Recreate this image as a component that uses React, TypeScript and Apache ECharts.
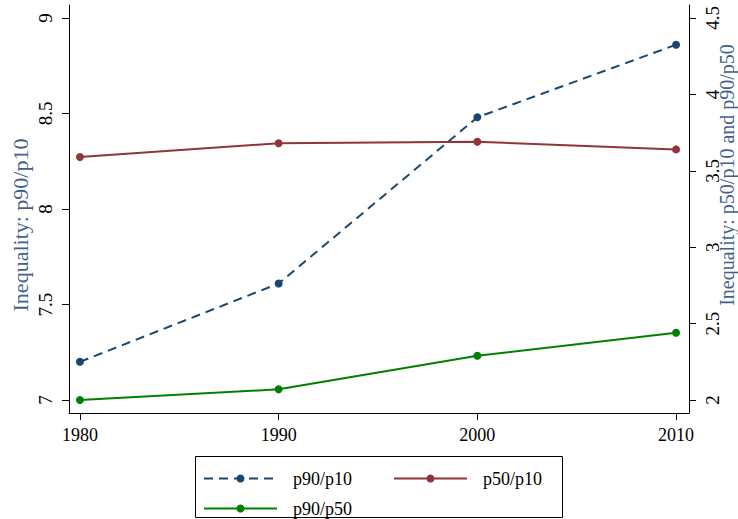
import React, { useEffect, useRef } from "react";
import * as echarts from "echarts";

const years = [1980, 1990, 2000, 2010];
const p90p10 = [7.2, 7.61, 8.48, 8.86];
const p50p10 = [3.59, 3.68, 3.69, 3.64];
const p90p50 = [2.0, 2.07, 2.29, 2.44];
const xTicks = [1980, 1990, 2000, 2010];
const leftTicks = [7, 7.5, 8, 8.5, 9];
const rightTicks = [2, 2.5, 3, 3.5, 4, 4.5];

const FONT = "Liberation Serif";
const NAVY = "#1a476f";
const MAROON = "#90353b";
const GREEN = "#008000";
const TITLE = "#3f6190";

export default function App() {
  const ref = useRef<HTMLDivElement>(null);
  useEffect(() => {
    if (!ref.current) return;
    const chart = echarts.init(ref.current, undefined, { renderer: "svg" });
    const pairs = (vals: number[]) => years.map((y, i) => [y, vals[i]]);
    chart.setOption({
      animation: false,
      backgroundColor: "#fff",
      textStyle: { fontFamily: FONT },
      grid: { left: 69, right: 49, top: 5, bottom: 106, containLabel: false, outerBoundsMode: "none" },
      xAxis: {
        type: "value",
        min: 1979.45,
        max: 2010.65,
        axisLine: { show: true, lineStyle: { color: "#000", width: 1 } },
        axisTick: { show: true, length: 7, customValues: xTicks, lineStyle: { color: "#000" } },
        axisLabel: {
          customValues: xTicks,
          color: "#000",
          fontSize: 18,
          fontFamily: FONT,
          margin: 13,
          formatter: (v: number) => String(v),
        },
        splitLine: { show: false },
      },
      yAxis: [
        {
          type: "value",
          position: "left",
          min: 6.932,
          max: 9.068,
          name: "Inequality: p90/p10",
          nameLocation: "middle",
          nameRotate: 90,
          nameGap: 38,
          nameMoveOverlap: false,
          nameTextStyle: { color: TITLE, fontSize: 22, fontFamily: FONT, padding: [0, 32, 0, 0] },
          axisLine: { show: true, lineStyle: { color: "#000", width: 1 } },
          axisTick: { show: true, length: 7, customValues: leftTicks, lineStyle: { color: "#000" } },
          axisLabel: { customValues: leftTicks, rotate: 90, color: "#000", fontSize: 19, fontFamily: FONT, margin: 14 },
          splitLine: { show: false },
        },
        {
          type: "value",
          position: "right",
          min: 1.915,
          max: 4.585,
          name: "Inequality: p50/p10 and p90/p50",
          nameLocation: "middle",
          nameRotate: 90,
          nameGap: 28,
          nameMoveOverlap: false,
          nameTextStyle: { color: TITLE, fontSize: 20, fontFamily: FONT, padding: [0, 0, 0, 68] },
          axisLine: { show: true, lineStyle: { color: "#000", width: 1 } },
          axisTick: { show: true, length: 7, customValues: rightTicks, lineStyle: { color: "#000" } },
          axisLabel: { customValues: rightTicks, rotate: 90, color: "#000", fontSize: 19, fontFamily: FONT, margin: 14 },
          splitLine: { show: false },
        },
      ],
      legend: {
        left: 203,
        top: 467,
        width: 360,
        padding: 0,
        itemWidth: 73,
        itemHeight: 10,
        itemGap: 7,
        textStyle: { fontSize: 18, fontFamily: FONT, color: "#000", width: 93, padding: [3, 0, 0, 11], lineHeight: 20 },
        data: [
          { name: "p90/p10" },
          { name: "p50/p10", textStyle: { width: 60 } },
          { name: "p90/p50" },
        ],
      },
      graphic: [
        {
          type: "rect",
          shape: { x: 195.5, y: 456.5, width: 367, height: 61 },
          style: { fill: "none", stroke: "#000", lineWidth: 1 },
          silent: true,
        },
      ],
      series: [
        {
          name: "p90/p10",
          type: "line",
          yAxisIndex: 0,
          data: pairs(p90p10),
          symbol: "circle",
          symbolSize: 8,
          itemStyle: { color: NAVY },
          lineStyle: { color: NAVY, width: 2, type: [9, 6] },
        },
        {
          name: "p50/p10",
          type: "line",
          yAxisIndex: 1,
          data: pairs(p50p10),
          symbol: "circle",
          symbolSize: 8,
          itemStyle: { color: MAROON },
          lineStyle: { color: MAROON, width: 2 },
        },
        {
          name: "p90/p50",
          type: "line",
          yAxisIndex: 1,
          data: pairs(p90p50),
          symbol: "circle",
          symbolSize: 8,
          itemStyle: { color: GREEN },
          lineStyle: { color: GREEN, width: 2 },
        },
      ],
    });
    return () => chart.dispose();
  }, []);
  return (
    <div
      ref={ref}
      style={{ position: "absolute", left: 0, top: 0, width: 738, height: 519 }}
    />
  );
}
